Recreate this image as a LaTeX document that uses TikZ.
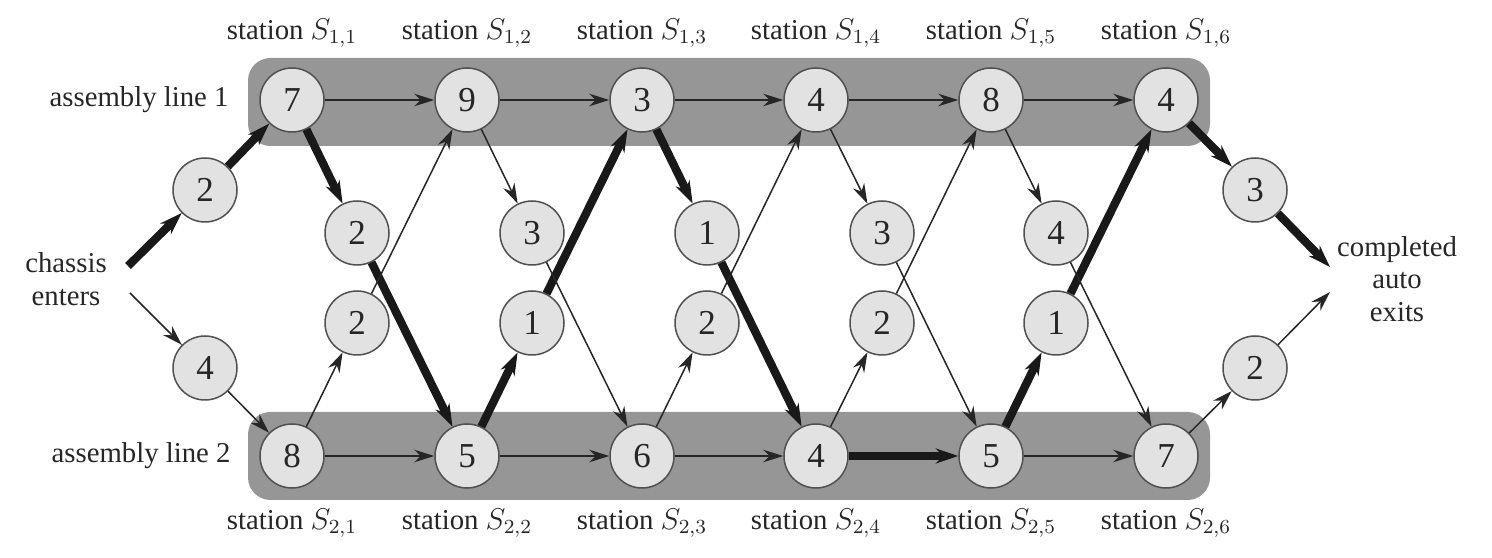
\documentclass[tikz,border=0pt]{standalone}
\usepackage{fontspec}
\setmainfont{Liberation Serif}
\usetikzlibrary{arrows.meta}
\definecolor{bandgray}{RGB}{150,150,150}
\definecolor{nodefill}{RGB}{226,226,226}
\definecolor{nodeline}{RGB}{80,80,80}
\tikzset{
  stn/.style={circle, draw=nodeline, fill=nodefill, line width=0.6pt, minimum size=25.6pt, inner sep=0pt, text=black!85, font=\fontsize{14}{16}\selectfont},
  lbl/.style={inner sep=0pt, text=black!85, align=center, font=\fontsize{11.5}{13}\selectfont},
  slow/.style={draw=black!85, line width=0.6pt, -{Stealth[length=8pt,width=5pt]}},
  fast/.style={draw=black!90, line width=3.3pt, -{Stealth[length=9pt,width=6pt]}},
  band/.style={fill=bandgray, rounded corners=9pt}
}

\begin{document}
\begin{tikzpicture}[x=0.4pt,y=-0.4pt]
\useasboundingbox (0,0) rectangle (1492,558);
% assembly lines
\fill[band] (248,58) rectangle (1210,146);
\fill[band] (248,412) rectangle (1210,500);
% stations of line 1
\node[stn] (s11) at (292,100) {7};
\node[stn] (s12) at (467,100) {9};
\node[stn] (s13) at (642,100) {3};
\node[stn] (s14) at (816,100) {4};
\node[stn] (s15) at (991,100) {8};
\node[stn] (s16) at (1166,100) {4};
% stations of line 2
\node[stn] (s21) at (292,456) {8};
\node[stn] (s22) at (467,456) {5};
\node[stn] (s23) at (642,456) {6};
\node[stn] (s24) at (816,456) {4};
\node[stn] (s25) at (991,456) {5};
\node[stn] (s26) at (1166,456) {7};
% transfer times
\node[stn] (t11) at (357,233) {2};
\node[stn] (t12) at (532,233) {3};
\node[stn] (t13) at (707,233) {1};
\node[stn] (t14) at (882,233) {3};
\node[stn] (t15) at (1056,233) {4};
\node[stn] (t21) at (357,323) {2};
\node[stn] (t22) at (532,323) {1};
\node[stn] (t23) at (707,323) {2};
\node[stn] (t24) at (882,323) {2};
\node[stn] (t25) at (1056,323) {1};
% entry and exit
\node[stn] (e1) at (205,190) {2};
\node[stn] (e2) at (205,368) {4};
\node[stn] (x1) at (1255,190) {3};
\node[stn] (x2) at (1255,368) {2};
\coordinate (in1) at (128,266);
\coordinate (in2) at (130,293);
\coordinate (out1) at (1330,267);
\coordinate (out2) at (1330,292);
% labels
\node[lbl] (chassis) at (66,279) {chassis\\enters};
\node[lbl] (auto) at (1397,279) {completed\\auto\\exits};
\node[lbl, anchor=east] (line1) at (229,100) {assembly line 1};
\node[lbl, anchor=east] (line2) at (231,456) {assembly line 2};
\node[lbl] (top1) at (292,33) {station $S_{1,1}$};
\node[lbl] (top2) at (467,33) {station $S_{1,2}$};
\node[lbl] (top3) at (642,33) {station $S_{1,3}$};
\node[lbl] (top4) at (816,33) {station $S_{1,4}$};
\node[lbl] (top5) at (991,33) {station $S_{1,5}$};
\node[lbl] (top6) at (1166,33) {station $S_{1,6}$};
\node[lbl] (bot1) at (292,523) {station $S_{2,1}$};
\node[lbl] (bot2) at (467,523) {station $S_{2,2}$};
\node[lbl] (bot3) at (642,523) {station $S_{2,3}$};
\node[lbl] (bot4) at (816,523) {station $S_{2,4}$};
\node[lbl] (bot5) at (991,523) {station $S_{2,5}$};
\node[lbl] (bot6) at (1166,523) {station $S_{2,6}$};
% fastest way
\draw[fast] (in1) -- (e1);
\draw[fast] (e1) -- (s11);
\draw[fast] (s11) -- (t11);
\draw[fast] (t11) -- (s22);
\draw[fast] (s22) -- (t22);
\draw[fast] (t22) -- (s13);
\draw[fast] (s13) -- (t13);
\draw[fast] (t13) -- (s24);
\draw[fast] (s24) -- (s25);
\draw[fast] (s25) -- (t25);
\draw[fast] (t25) -- (s16);
\draw[fast] (s16) -- (x1);
\draw[fast] (x1) -- (out1);
% other moves
\draw[slow] (in2) -- (e2);
\draw[slow] (e2) -- (s21);
\draw[slow] (s11) -- (s12);
\draw[slow] (s12) -- (s13);
\draw[slow] (s13) -- (s14);
\draw[slow] (s14) -- (s15);
\draw[slow] (s15) -- (s16);
\draw[slow] (s21) -- (s22);
\draw[slow] (s22) -- (s23);
\draw[slow] (s23) -- (s24);
\draw[slow] (s25) -- (s26);
\draw[slow] (s12) -- (t12);
\draw[slow] (t12) -- (s23);
\draw[slow] (s14) -- (t14);
\draw[slow] (t14) -- (s25);
\draw[slow] (s15) -- (t15);
\draw[slow] (t15) -- (s26);
\draw[slow] (s21) -- (t21);
\draw[slow] (t21) -- (s12);
\draw[slow] (s23) -- (t23);
\draw[slow] (t23) -- (s14);
\draw[slow] (s24) -- (t24);
\draw[slow] (t24) -- (s15);
\draw[slow] (s26) -- (x2);
\draw[slow] (x2) -- (out2);
\end{tikzpicture}
\end{document}
